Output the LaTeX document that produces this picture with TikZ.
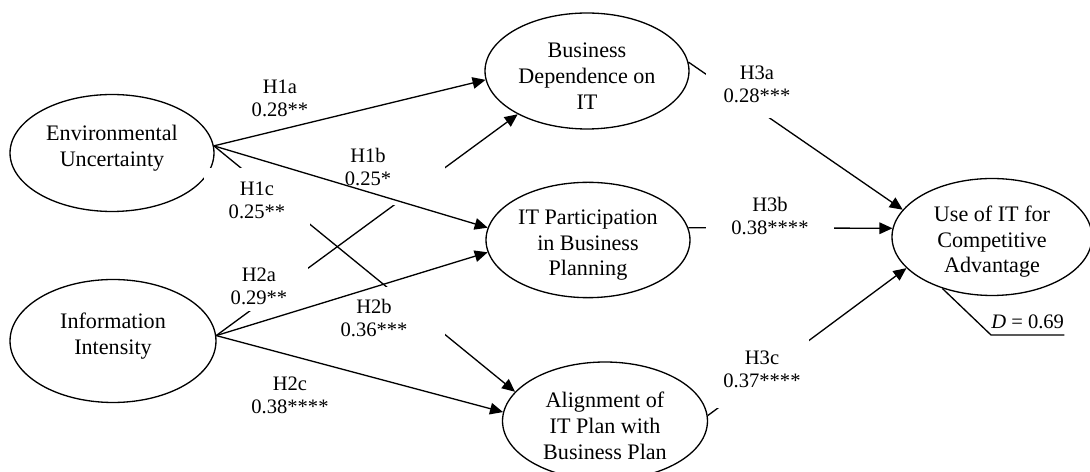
\documentclass[tikz,border=0pt]{standalone}
\usepackage{fontspec}
\setmainfont{Liberation Serif}
\usetikzlibrary{shapes.geometric,arrows.meta}
\tikzset{
  construct/.style={
    ellipse, draw, line width=0.75pt, inner sep=0pt, align=center,
    minimum width=4.08cm, minimum height=2.34cm,
    font=\fontsize{12.6}{14.7}\selectfont},
  hyp/.style={
    fill=white, inner sep=0pt, align=center,
    font=\fontsize{11.7}{13}\selectfont},
  link/.style={line width=0.75pt},
  arrowlink/.style={link, -{Triangle[length=7.4pt,width=6.6pt]}}
}
% struts to lift or lower the text inside the ellipses
\newcommand{\lowstrut}{\rule[-8.4pt]{0pt}{0pt}}
\newcommand{\highstrut}{\rule{0pt}{14.3pt}}

\begin{document}
\begin{tikzpicture}[x=0.02cm, y=-0.02cm]
\useasboundingbox (0,0) rectangle (1090,472);

% constructs
\node[construct] (env) at (112,153) {Environmental\\Uncertainty\lowstrut};
\node[construct, minimum width=4.12cm, minimum height=2.46cm] (info) at (113,341)
  {Information\\Intensity\lowstrut};
\node[construct, minimum height=2.32cm] (bdep) at (587,71)
  {\highstrut Business\\Dependence on\\IT};
\node[construct, minimum height=2.3cm] (itp) at (588,240)
  {\highstrut IT Participation\\in Business\\Planning};
\node[construct, minimum width=4.0cm] (use) at (992,237)
  {\highstrut Use of IT for\\Competitive\\Advantage};
\node[construct, minimum width=4.1cm, minimum height=2.36cm] (alignment) at (605,421)
  {\highstrut Alignment of\\IT Plan with\\Business Plan};

% paths that run behind the label boxes
\draw[arrowlink] (env.4) -- (alignment.162);
\draw[arrowlink] (info.3) -- (bdep.212);
\draw[arrowlink] (bdep.5) -- (use.163);
\draw[arrowlink] (itp.7) -- (use.175);
\draw[arrowlink] (alignment.3) -- (use.200);

% path coefficients
\node[hyp] (h1a) at (280,98) {H1a\\0.28**};
\node[hyp, minimum width=3.08cm, minimum height=1.52cm] (h1b) at (368,167) {H1b\\0.25*};
\node[hyp, minimum width=2.12cm, minimum height=1.28cm] (h1c) at (257,200) {H1c\\0.25**};
\node[hyp, minimum width=1.96cm, minimum height=1.0cm] (h2a) at (259,286) {H2a\\0.29**};
\node[hyp, minimum width=2.84cm, minimum height=1.24cm] (h2b) at (374,318) {H2b\\0.36***};
\node[hyp] (h2c) at (290,395) {H2c\\0.38****};
\node[hyp, minimum width=2.06cm, minimum height=1.36cm] (h3a) at (757,84) {H3a\\0.28***};
\node[hyp, minimum width=2.56cm, minimum height=1.12cm] (h3b) at (770,216) {H3b\\0.38****};
\node[hyp, minimum width=1.9cm, minimum height=1.56cm] (h3c) at (762,369) {H3c\\0.37****};

% paths on top
\draw[arrowlink] (env.4) -- (bdep.185);
\draw[arrowlink] (env.4) -- (itp.173);
\draw[arrowlink] (info.3) -- (itp.187);
\draw[arrowlink] (info.3) -- (alignment.175);

% disturbance
\node[hyp, fill=none, inner ysep=3.4pt, anchor=south west] (dval) at (991,335)
  {\textit{D} = 0.69};
\draw[link] (use.226) -- (dval.south west) -- (dval.south east);

\end{tikzpicture}
\end{document}
